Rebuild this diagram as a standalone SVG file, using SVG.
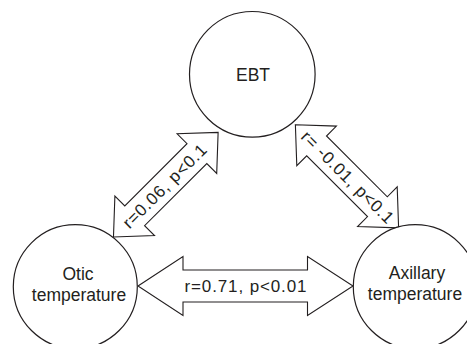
<svg xmlns="http://www.w3.org/2000/svg" width="467" height="344" viewBox="0 0 467 344">
<style>
.node{fill:#fff;stroke:#231f20;stroke-width:1.2}
.arrow{fill:#fff;stroke:#231f20;stroke-width:1.1;stroke-linejoin:miter}
.lbl{font-family:"Liberation Sans",Arial,sans-serif;font-size:17.5px;fill:#231f20;text-anchor:middle}
.alb{font-family:"Liberation Sans",Arial,sans-serif;font-size:17px;fill:#231f20;text-anchor:middle}
</style>
<rect width="467" height="344" fill="#fff"/>
<g id="connectors">
  <g id="otic-axillary">
    <polygon class="arrow" points="138,286 183,256.5 183,270 307.5,270 307.5,256.5 353,286 307.5,315.5 307.5,302 183,302 183,315.5"/>
    <text class="alb" x="245.5" y="292.3" textLength="122" lengthAdjust="spacing">r=0.71, p&lt;0.01</text>
  </g>
  <g id="otic-ebt" transform="translate(165.8,184.7) rotate(-45)">
    <polygon class="arrow" points="-74,0 -44,-28 -44,-14 44,-14 44,-28 74,0 44,28 44,14 -44,14 -44,28"/>
    <text class="alb" x="-2" y="6" textLength="111" lengthAdjust="spacing">r=0.06, p&lt;0.1</text>
  </g>
  <g id="ebt-axillary" transform="translate(347,176.3) rotate(45)">
    <polygon class="arrow" points="-73,0 -43,-28 -43,-14 43,-14 43,-28 73,0 43,28 43,14 -43,14 -43,28"/>
    <text class="alb" x="1" y="6" textLength="123" lengthAdjust="spacing">r= -0.01, p&lt;0.1</text>
  </g>
</g>
<g id="ebt">
  <circle class="node" cx="252.3" cy="74.3" r="62.8"/>
  <text class="lbl" x="253" y="81">EBT</text>
</g>
<g id="otic">
  <circle class="node" cx="75.3" cy="286.7" r="62"/>
  <text class="lbl" x="78" y="280">Otic</text>
  <text class="lbl" x="79" y="301">temperature</text>
</g>
<g id="axillary">
  <circle class="node" cx="415.3" cy="286.7" r="62"/>
  <text class="lbl" x="417" y="279">Axillary</text>
  <text class="lbl" x="415" y="300">temperature</text>
</g>
</svg>
